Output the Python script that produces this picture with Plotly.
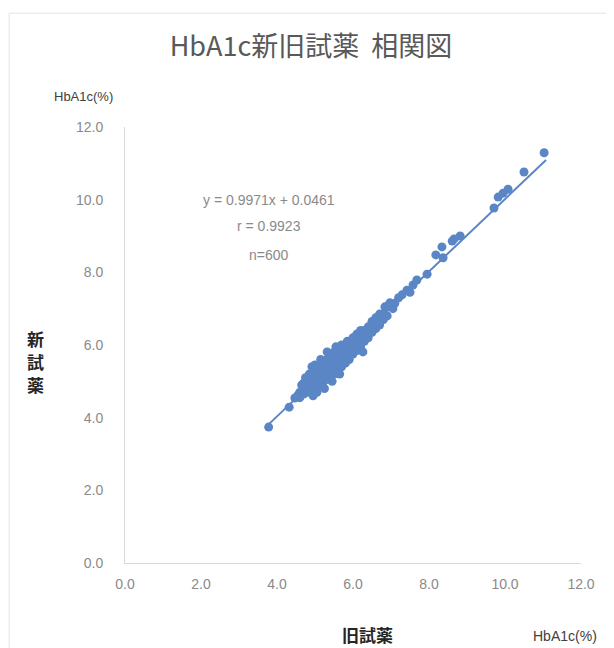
import plotly.graph_objects as go

# 旧試薬 (x) vs 新試薬 (y), HbA1c (%)
old_reagent = [
    3.78, 4.32, 4.47, 4.55,
    4.6, 4.6, 4.65,
    4.7, 4.7, 4.7, 4.75,
    4.8, 4.8, 4.8, 4.85,
    4.9, 4.9, 4.9, 4.92, 4.95,
    5.0, 5.0, 5.0, 5.0, 5.0, 5.05,
    5.1, 5.1, 5.1, 5.1, 5.1, 5.15,
    5.2, 5.2, 5.2, 5.2, 5.2, 5.25,
    5.3, 5.3, 5.3, 5.3, 5.32, 5.35,
    5.4, 5.4, 5.4, 5.4, 5.4, 5.45,
    5.5, 5.5, 5.5, 5.5, 5.5, 5.55,
    5.6, 5.6, 5.6, 5.6, 5.6, 5.65,
    5.7, 5.7, 5.7, 5.7, 5.7,
    5.8, 5.8, 5.8, 5.8, 5.85,
    5.9, 5.9, 5.9, 5.9,
    6.0, 6.0, 6.0, 6.0,
    6.1, 6.1, 6.1, 6.1,
    6.2, 6.2, 6.2, 6.2, 6.26,
    6.3, 6.3, 6.3,
    6.4, 6.4, 6.4,
    6.5, 6.5, 6.5,
    6.6, 6.6, 6.6,
    6.7, 6.7, 6.7,
    6.8, 6.8, 6.84,
    6.9, 6.97,
    7.05, 7.1, 7.2, 7.29, 7.42, 7.5, 7.58, 7.68,
    7.95, 8.18, 8.34, 8.37, 8.61, 8.66, 8.82,
    9.71, 9.82, 9.95, 10.08, 10.5, 11.03,
]
new_reagent = [
    3.74, 4.29, 4.54, 4.62,
    4.55, 4.7, 4.9,
    4.65, 4.8, 4.95, 5.1,
    4.7, 4.85, 5.0, 5.2,
    4.75, 4.9, 5.05, 5.4, 4.6,
    4.8, 4.95, 5.1, 5.25, 5.45, 4.7,
    4.85, 5.0, 5.15, 5.3, 5.45, 5.6,
    4.95, 5.1, 5.25, 5.4, 5.55, 4.8,
    5.05, 5.2, 5.35, 5.5, 5.81, 5.65,
    5.1, 5.25, 5.4, 5.55, 5.7, 5.0,
    5.2, 5.35, 5.5, 5.65, 5.8, 5.95,
    5.3, 5.45, 5.6, 5.75, 5.9, 5.2,
    5.4, 5.55, 5.7, 5.85, 6.0,
    5.5, 5.65, 5.8, 5.95, 6.1,
    5.6, 5.75, 5.9, 6.05,
    5.75, 5.9, 6.05, 6.2,
    5.85, 6.0, 6.15, 6.3,
    5.95, 6.1, 6.25, 6.4, 5.81,
    6.1, 6.25, 6.4,
    6.2, 6.35, 6.5,
    6.35, 6.5, 6.65,
    6.45, 6.6, 6.75,
    6.55, 6.7, 6.85,
    6.7, 6.85, 7.05,
    6.8, 7.16,
    7.0, 7.15, 7.3, 7.38, 7.51, 7.45, 7.65, 7.79,
    7.95, 8.48, 8.7, 8.4, 8.86, 8.92, 9.0,
    9.77, 10.07, 10.18, 10.29, 10.76, 11.29,
]

slope = 0.9971
intercept = 0.0461
trend_x = [min(old_reagent), max(old_reagent) + 0.05]
trend_y = [slope * v + intercept for v in trend_x]

tick_vals = [0, 2, 4, 6, 8, 10, 12]
tick_text = ["0.0", "2.0", "4.0", "6.0", "8.0", "10.0", "12.0"]

blue = "#5b86c6"
gray = "#8a8a8a"
axis_col = "#d9d9d9"
jp = "Noto Sans CJK JP"

fig = go.Figure()
fig.add_trace(go.Scatter(x=old_reagent, y=new_reagent, mode="markers",
                         marker=dict(size=9, color=blue, line=dict(width=0)),
                         showlegend=False))
fig.add_trace(go.Scatter(x=trend_x, y=trend_y, mode="lines",
                         line=dict(color=blue, width=2), showlegend=False))

W, H = 606, 640  # page body adds an 8px offset in the 614x648 window
fig.update_layout(
    width=W, height=H,
    margin=dict(l=117, r=33, t=119, b=85),
    paper_bgcolor="white", plot_bgcolor="white",
    title=dict(text="HbA1c新旧試薬  相関図", x=0.5, xanchor="center",
               y=1 - 39 / H, yanchor="middle",
               font=dict(family=jp, size=27, color="#595959")),
    xaxis=dict(range=[0, 12], tickvals=tick_vals, ticktext=tick_text,
               showgrid=False, zeroline=False, showline=True, linecolor=axis_col,
               linewidth=1, ticks="", ticklabelstandoff=8,
               tickfont=dict(family="Liberation Sans", size=14, color=gray)),
    yaxis=dict(range=[0, 12], tickvals=tick_vals, ticktext=tick_text,
               showgrid=False, zeroline=False, showline=True, linecolor=axis_col,
               linewidth=1, ticks="", ticklabelstandoff=18,
               tickfont=dict(family="Liberation Sans", size=14, color=gray)),
    font=dict(family=jp),
)

ann = [
    dict(x=3.8, y=10.0, xref="x", yref="y", text="y = 0.9971x + 0.0461",
         font=dict(family="Liberation Sans", size=14, color=gray)),
    dict(x=3.8, y=9.27, xref="x", yref="y", text="r = 0.9923",
         font=dict(family="Liberation Sans", size=14, color=gray)),
    dict(x=3.8, y=8.47, xref="x", yref="y", text="n=600",
         font=dict(family="Liberation Sans", size=14, color=gray)),
    dict(x=-0.092, y=1.069, xref="paper", yref="paper", text="HbA1c(%)",
         font=dict(family="Liberation Sans", size=13, color="#404040")),
    dict(x=0.966, y=-0.167, xref="paper", yref="paper", text="HbA1c(%)",
         font=dict(family="Liberation Sans", size=14, color="#404040")),
    dict(x=0.531, y=-0.163, xref="paper", yref="paper", text="<b>旧試薬</b>",
         font=dict(family=jp, size=17, color="#262626")),
]
for ch, yy in zip(["新", "試", "薬"], [0.515, 0.462, 0.409]):
    ann.append(dict(x=-0.197, y=yy, xref="paper", yref="paper", text="<b>" + ch + "</b>",
                    font=dict(family=jp, size=17, color="#262626")))
for a in ann:
    a.update(showarrow=False, xanchor="center", yanchor="middle")
fig.update_layout(annotations=ann)

fig.add_shape(type="rect", xref="paper", yref="paper",
              x0=-0.254, x1=1.2, y0=-0.3, y1=1.261,
              line=dict(color="#e3e3e3", width=1), layer="below")

fig.write_html("out.html")
